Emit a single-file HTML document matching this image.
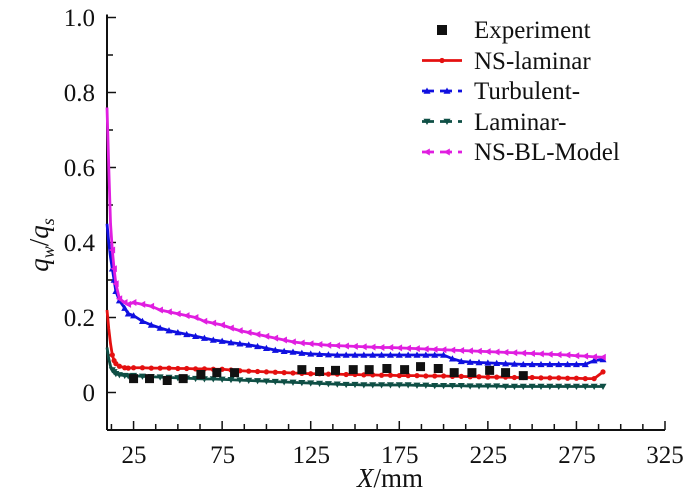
<!DOCTYPE html>
<html><head><meta charset="utf-8"><style>
html,body{margin:0;padding:0;background:#fff}
#wrap{position:relative;width:700px;height:495px;overflow:hidden}
svg{display:block;position:absolute;left:0;top:0}
.lbl{position:absolute;font-family:"Liberation Serif","Times New Roman",serif;font-size:25px;line-height:25px;color:#111;white-space:nowrap}
.xt{width:60px;text-align:center;top:443px}
.yt{width:60px;text-align:right;left:35px}
.lg{left:474px}
text,tspan{font-family:"Liberation Serif","Times New Roman",serif;fill:#111}
</style></head><body>
<div id="wrap">
<svg id="chart" width="700" height="495" viewBox="0 0 700 495" xmlns="http://www.w3.org/2000/svg">
<g id="axes"></g>
<g id="series"></g>
<g id="legend"></g>
<text transform="translate(48,245) rotate(-90)" text-anchor="middle" font-size="27" font-style="italic">q<tspan font-size="18" dy="6">w</tspan><tspan dy="-6" font-style="normal">/</tspan>q<tspan font-size="18" dy="6">s</tspan></text>
<text x="390" y="487" text-anchor="middle" font-size="27"><tspan font-style="italic">X</tspan>/mm</text>
</svg>
<div class="lbl xt" style="left:104px">25</div>
<div class="lbl xt" style="left:192.6px">75</div>
<div class="lbl xt" style="left:281.2px">125</div>
<div class="lbl xt" style="left:369.8px">175</div>
<div class="lbl xt" style="left:458.4px">225</div>
<div class="lbl xt" style="left:547px">275</div>
<div class="lbl xt" style="left:635px">325</div>
<div class="lbl yt" style="top:381px">0</div>
<div class="lbl yt" style="top:306px">0.2</div>
<div class="lbl yt" style="top:231px">0.4</div>
<div class="lbl yt" style="top:156px">0.6</div>
<div class="lbl yt" style="top:81px">0.8</div>
<div class="lbl yt" style="top:6px">1.0</div>
<div class="lbl lg" style="top:18px">Experiment</div>
<div class="lbl lg" style="top:48.5px">NS-laminar</div>
<div class="lbl lg" style="top:79px">Turbulent-</div>
<div class="lbl lg" style="top:109.5px">Laminar-</div>
<div class="lbl lg" style="top:140px">NS-BL-Model</div>
</div>
<script>
const xTicks=[25,75,125,175,225,275,325];
const yTicks=[0,0.2,0.4,0.6,0.8,1.0];
const xEarly=[10,11,12,13,14,15,17,20,22];
const xMain=[25,30,35,40,45,50,55,60,65,70,75,80,85,90,95,100,105,110,115,120,125,130,135,140,145,150,155,160,165,170,175,180,185,190,195,200,205,210,215,220,225,230,235,240,245,250,255,260,265,270,275,280,285,290];
const magenta=[.76,.6,.45,.38,.33,.29,.25,.24,.235,
.24,.235,.23,.22,.215,.21,.205,.2,.19,.185,.18,.172,.165,.16,.155,.15,.145,.14,.135,.132,.13,.128,.126,.125,.124,.123,.122,.121,.12,.12,.119,.118,.117,.116,.115,.114,.113,.112,.111,.11,.109,.108,.107,.106,.105,.104,.103,.102,.101,.1,.098,.097,.095,.094];
const blue=[.45,.4,.36,.33,.3,.27,.245,.225,.21,
.205,.19,.18,.172,.165,.16,.155,.15,.145,.14,.137,.133,.13,.127,.123,.118,.113,.11,.108,.105,.103,.102,.101,.1,.1,.1,.1,.1,.1,.1,.1,.1,.1,.1,.1,.1,.09,.083,.081,.08,.079,.078,.077,.076,.075,.075,.075,.075,.075,.075,.075,.075,.085,.088];
const red=[.22,.17,.13,.1,.085,.077,.07,.066,.065,
.066,.066,.065,.065,.065,.064,.064,.063,.063,.062,.062,.06,.058,.057,.056,.055,.054,.053,.052,.051,.05,.05,.049,.049,.048,.048,.047,.047,.046,.046,.045,.045,.045,.044,.044,.044,.043,.043,.042,.042,.041,.041,.041,.04,.04,.04,.039,.039,.039,.038,.038,.037,.037,.055,.056];
const green=[.12,.09,.07,.06,.055,.05,.047,.045,.044,
.045,.043,.042,.041,.04,.039,.038,.037,.036,.036,.035,.034,.033,.032,.031,.03,.029,.028,.027,.026,.025,.024,.023,.022,.021,.021,.02,.02,.02,.02,.02,.02,.019,.019,.018,.018,.018,.018,.017,.017,.017,.017,.016,.016,.016,.016,.016,.016,.016,.016,.016,.016,.016,.016];
const expX=[25,34,44,53,63,72,82,120,130,139,149,158,168,178,187,197,206,216,226,235,245];
const expY=[.037,.037,.032,.037,.048,.053,.053,.061,.056,.059,.061,.061,.064,.061,.069,.064,.053,.053,.059,.053,.045];

const NS="http://www.w3.org/2000/svg";
const X0=10,X1=325,PX0=107,PX1=665,Y0=-0.1,Y1=1.0,PY0=430,PY1=17.5;
function sx(v){return PX0+(v-X0)/(X1-X0)*(PX1-PX0);}
function sy(v){return PY0-(v-Y0)/(Y1-Y0)*(PY0-PY1);}
function mk(tag,attrs,parent){const e=document.createElementNS(NS,tag);for(const k in attrs)e.setAttribute(k,attrs[k]);parent.appendChild(e);return e;}
const axes=document.getElementById('axes');
let a=mk('line',{x1:PX0,y1:PY0,x2:PX1,y2:PY0,stroke:'#111','stroke-width':2},axes);

a=mk('line',{x1:PX0,y1:PY0,x2:PX0,y2:PY1-3,stroke:'#111','stroke-width':2},axes);

for(let v=12.5;v<=325;v+=12.5){const major=xTicks.includes(v);
 const t=mk('line',{x1:sx(v),x2:sx(v),y1:PY0,y2:PY0-(major?9:6),stroke:'#111','stroke-width':1.5},axes);
 }
for(let v=-0.1;v<=1.001;v+=0.1){const major=yTicks.some(t=>Math.abs(t-v)<1e-6);
 const t=mk('line',{x1:PX0,x2:PX0+(major?9:6),y1:sy(v),y2:sy(v),stroke:'#111','stroke-width':1.5},axes);
 }

function marker(type,x,y,color,g){
 let e;
 if(type==='circle')e=mk('circle',{cx:x,cy:y,r:2.6,fill:color},g);
 else if(type==='up')e=mk('polygon',{points:`${x},${y-3.5} ${x-3.5},${y+2.8} ${x+3.5},${y+2.8}`,fill:color},g);
 else if(type==='down')e=mk('polygon',{points:`${x},${y+3.5} ${x-3.5},${y-2.8} ${x+3.5},${y-2.8}`,fill:color},g);
 else if(type==='left')e=mk('polygon',{points:`${x-3.5},${y} ${x+2.8},${y-3.5} ${x+2.8},${y+3.5}`,fill:color},g);
 else e=mk('rect',{x:x-4.5,y:y-4.5,width:9,height:9,fill:color},g);
 return e;}
const xs=xEarly.concat(xMain);
const series=document.getElementById('series');
const defs=[[green,'#0f4f45','down','series-laminar'],[red,'#e41010','circle','series-ns-laminar'],[blue,'#1010e0','up','series-turbulent'],[magenta,'#e01ee0','left','series-ns-bl-model']];
defs.forEach(([vals,color,m,name])=>{
 const g=mk('g',{},series);
 const p=mk('polyline',{points:xs.map((x,i)=>sx(x)+','+sy(vals[i])).join(' '),fill:'none',stroke:color,'stroke-width':2.8,'stroke-linejoin':'round'},g);
 
 xs.forEach((x,i)=>{if(x>=13){const e=marker(m,sx(x),sy(vals[i]),color,g);
  }});
});
const eg=mk('g',{},series);
expX.forEach((x,i)=>{const e=marker('square',sx(x),sy(expY[i]),'#111',eg);
 });

const legend=document.getElementById('legend');
const lstyle=[['square','#111',false],['circle','#e41010',true],['up','#1010e0',true],['down','#0f4f45',true],['left','#e01ee0',true]];
lstyle.forEach((s,i)=>{const y=30+i*30.5;
 const g=mk('g',{},legend);
 const [m,c,line]=s;
 if(line){const l=mk('line',{x1:422,x2:462,y1:y,y2:y,stroke:c,'stroke-width':2.8},g);
  if(i>1)l.setAttribute('stroke-dasharray','12 6');}
 if(i===0){mk('rect',{x:437,y:y-5,width:10,height:10,fill:c},g);}
 else{if(i>1){marker(m,427,y,c,g);marker(m,447,y,c,g);}else marker(m,442,y,c,g);}
});
</script>
</body></html>
